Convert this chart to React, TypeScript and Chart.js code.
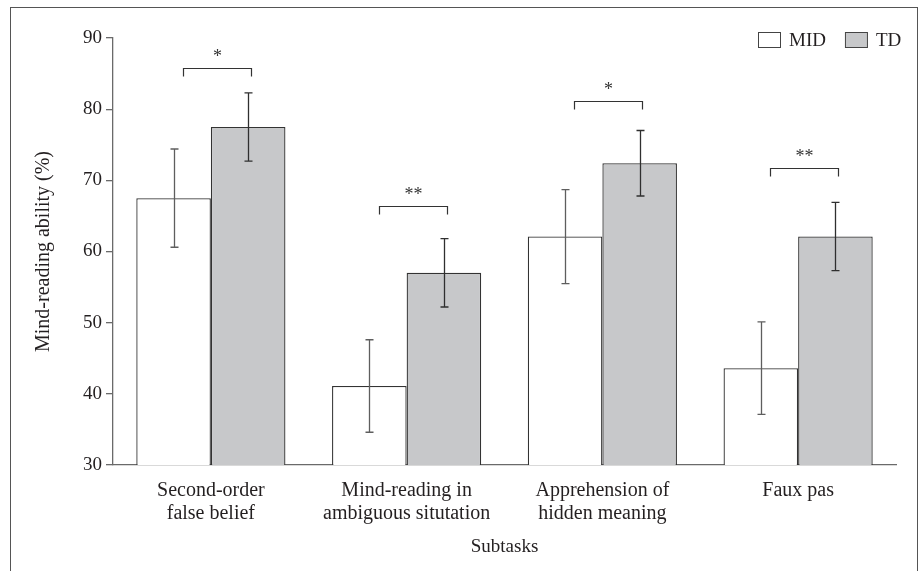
import React, { useEffect, useRef } from 'react';
import { Chart, registerables } from 'chart.js';

Chart.register(...registerables);

const categories: string[][] = [
  ['Second-order', 'false belief'],
  ['Mind-reading in', 'ambiguous situtation'],
  ['Apprehension of', 'hidden meaning'],
  ['Faux pas'],
];
const seriesNames = ['MID', 'TD'];
const midValues = [67.5, 41.1, 62.1, 43.6];
const midErrors = [6.9, 6.5, 6.6, 6.5];
const tdValues = [77.5, 57.0, 72.4, 62.1];
const tdErrors = [4.8, 4.8, 4.6, 4.8];
const sigLabels = ['*', '**', '*', '**'];
const sigLevels = [85.8, 66.4, 81.2, 71.7];
const yMin = 30;
const yMax = 90;
const yStep = 10;

const FONT = "'Liberation Serif', 'DejaVu Serif', serif";
const MID_FILL = '#ffffff';
const TD_FILL = '#c7c8ca';
const EDGE = '#333333';
const TEXT = '#231f20';

const overlay = {
  id: 'overlay',
  beforeDraw(chart: any) {
    const ctx = chart.ctx;
    ctx.save();
    ctx.fillStyle = '#ffffff';
    ctx.fillRect(0, 0, chart.width, chart.height);
    ctx.strokeStyle = '#555555';
    ctx.lineWidth = 1;
    ctx.strokeRect(10.5, 7.5, chart.width - 13, chart.height + 20);
    ctx.restore();
  },
  afterDatasetsDraw(chart: any) {
    const ctx = chart.ctx;
    const ys = chart.scales.y;
    const xs = chart.scales.x;
    const errs = [midErrors, tdErrors];
    ctx.save();
    errs.forEach((errList, di) => {
      const meta = chart.getDatasetMeta(di);
      const vals = chart.data.datasets[di].data as number[];
      meta.data.forEach((bar: any, i: number) => {
        const x = Math.round(bar.x) + 0.5;
        const top = ys.getPixelForValue(vals[i] + errList[i]);
        const bot = ys.getPixelForValue(vals[i] - errList[i]);
        ctx.strokeStyle = di === 0 ? '#5e5e5e' : '#2f2f2f';
        ctx.lineWidth = 1.3;
        ctx.beginPath();
        ctx.moveTo(x, top);
        ctx.lineTo(x, bot);
        ctx.moveTo(x - 4, top);
        ctx.lineTo(x + 4, top);
        ctx.moveTo(x - 4, bot);
        ctx.lineTo(x + 4, bot);
        ctx.stroke();
      });
    });
    // significance brackets
    sigLabels.forEach((lab, i) => {
      const xc = xs.getPixelForValue(i);
      const y = Math.round(ys.getPixelForValue(sigLevels[i])) + 0.5;
      const l = Math.round(xc - 28) + 0.5;
      const r = Math.round(xc + 40) + 0.5;
      ctx.strokeStyle = '#333333';
      ctx.lineWidth = 1.2;
      ctx.beginPath();
      ctx.moveTo(l, y + 8);
      ctx.lineTo(l, y);
      ctx.lineTo(r, y);
      ctx.lineTo(r, y + 8);
      ctx.stroke();
      ctx.fillStyle = '#333333';
      ctx.font = `18px ${FONT}`;
      ctx.textAlign = 'center';
      ctx.textBaseline = 'alphabetic';
      ctx.fillText(lab, (l + r) / 2, y - 7);
    });
    // legend
    const area = chart.chartArea;
    const fills = [MID_FILL, TD_FILL];
    ctx.font = `19px ${FONT}`;
    ctx.textAlign = 'left';
    ctx.textBaseline = 'middle';
    const yc = area.top + 2;
    let x = area.right - 138;
    seriesNames.forEach((name, i) => {
      ctx.fillStyle = fills[i];
      ctx.fillRect(x + 0.5, yc - 7.5, 22, 15);
      ctx.strokeStyle = '#444444';
      ctx.lineWidth = 1;
      ctx.strokeRect(x + 0.5, yc - 7.5, 22, 15);
      ctx.fillStyle = TEXT;
      ctx.fillText(name, x + 31, yc + 1);
      x += 31 + ctx.measureText(name).width + 19;
    });
    ctx.restore();
  },
};

export default function App() {
  const ref = useRef<HTMLCanvasElement | null>(null);
  useEffect(() => {
    document.body.style.margin = '0';
    if (!ref.current) return;
    const chart = new Chart(ref.current, {
      type: 'bar',
      data: {
        labels: categories,
        datasets: [
          {
            label: seriesNames[0],
            data: midValues,
            backgroundColor: MID_FILL,
            borderColor: EDGE,
            borderWidth: 1.3,
            borderSkipped: 'bottom',
          },
          {
            label: seriesNames[1],
            data: tdValues,
            backgroundColor: TD_FILL,
            borderColor: EDGE,
            borderWidth: 1.3,
            borderSkipped: 'bottom',
          },
        ],
      },
      options: {
        animation: false,
        responsive: false,
        maintainAspectRatio: false,
        devicePixelRatio: 1,
        layout: { padding: { left: 0, top: 38, right: 24, bottom: 0 } },
        datasets: { bar: { categoryPercentage: 0.762, barPercentage: 1 } },
        plugins: {
          legend: { display: false },
          tooltip: { enabled: false },
        },
        scales: {
          x: {
            afterFit: (s: any) => {
              s.height = 106;
            },
            grid: { display: false, drawTicks: false },
            border: { display: true, color: '#6a6a6a', width: 1.3 },
            ticks: {
              color: TEXT,
              font: { family: FONT, size: 20, lineHeight: 1.15 },
              padding: 14,
              maxRotation: 0,
              autoSkip: false,
            },
            title: {
              display: true,
              text: 'Subtasks',
              color: TEXT,
              font: { family: FONT, size: 19 },
              padding: { top: 10, bottom: 13 },
            },
          },
          y: {
            min: yMin,
            max: yMax,
            afterFit: (s: any) => {
              s.width = 113;
            },
            grid: {
              drawOnChartArea: false,
              drawTicks: true,
              tickLength: 7,
              color: '#6a6a6a',
              lineWidth: 1.3,
            },
            border: { display: true, color: '#6a6a6a', width: 1.3 },
            ticks: {
              stepSize: yStep,
              color: TEXT,
              font: { family: FONT, size: 19 },
              padding: 4,
            },
            title: {
              display: true,
              text: 'Mind-reading ability (%)',
              color: TEXT,
              font: { family: FONT, size: 20 },
              padding: { top: 32, bottom: 0 },
            },
          },
        },
      },
      plugins: [overlay],
    });
    return () => chart.destroy();
  }, []);
  return (
    <div style={{ width: 920, height: 571 }}>
      <canvas ref={ref} width={920} height={571} style={{ display: 'block', width: 920, height: 571 }} />
    </div>
  );
}
